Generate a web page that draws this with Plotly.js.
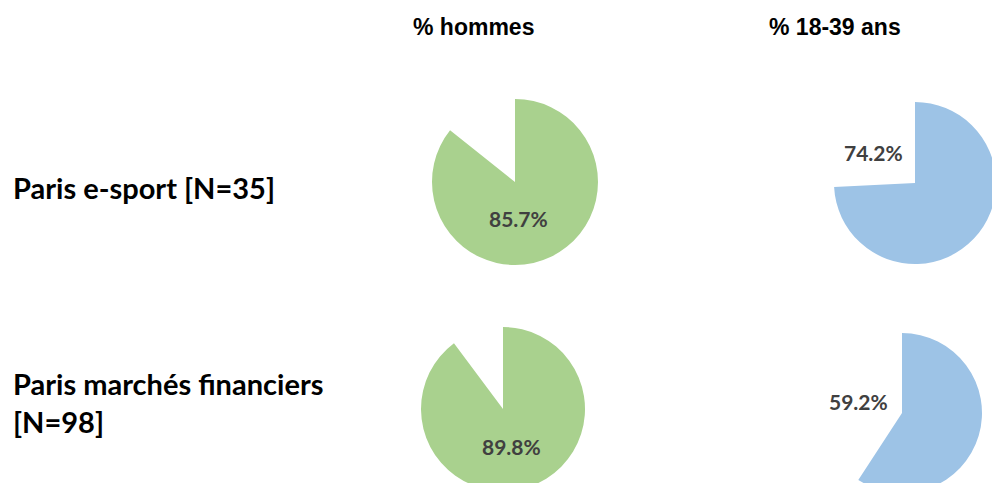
<!DOCTYPE html>
<html><head><meta charset="utf-8">
<script src="https://cdn.plot.ly/plotly-3.0.1.min.js"></script>
<style>html,body{margin:0;padding:0;overflow:hidden;background:#fff;}#chart{width:1000px;height:500px;}</style>
</head><body><div id="chart"></div>
<script>
// Data
const rowLabels = ['Paris e-sport [N=35]', 'Paris marchés financiers<br>[N=98]'];
const colTitles = ['% hommes', '% 18-39 ans'];
const pctHommes = [85.7, 89.8];
const pct1839 = [74.2, 59.2];
const colColors = ['#A9D18E', '#9DC3E6'];

const W = 1000, H = 500;
// layout: pie centres & radii (pixels)
const pieGeom = [
  [{cx: 515, cy: 182, r: 83}, {cx: 915, cy: 183, r: 81}],
  [{cx: 503, cy: 409, r: 82}, {cx: 902, cy: 413, r: 80}]
];
const labelPos = [
  [{x: 518, y: 219}, {x: 873, y: 152}],
  [{x: 511, y: 446}, {x: 858, y: 401}]
];
const series = [pctHommes, pct1839];

const traces = [];
const annotations = [];
for (let row = 0; row < 2; row++) {
  for (let col = 0; col < 2; col++) {
    const v = series[col][row];
    const g = pieGeom[row][col];
    traces.push({
      type: 'pie',
      values: [v, 100 - v],
      marker: {colors: [colColors[col], 'rgba(0,0,0,0)'], line: {width: 0}},
      sort: false,
      direction: 'clockwise',
      rotation: 0,
      textinfo: 'none',
      hoverinfo: 'skip',
      showlegend: false,
      domain: {x: [(g.cx - g.r) / W, (g.cx + g.r) / W], y: [1 - (g.cy + g.r) / H, 1 - (g.cy - g.r) / H]}
    });
    const lp = labelPos[row][col];
    annotations.push({
      text: '<b>' + v.toFixed(1) + '%</b>', showarrow: false, xref: 'paper', yref: 'paper',
      x: lp.x / W, y: 1 - lp.y / H, xanchor: 'center', yanchor: 'middle',
      font: {family: 'Lato', size: 21, color: '#404040'}
    });
  }
}
const titleX = [473, 835];
colTitles.forEach((t, i) => annotations.push({
  text: '<b>' + t + '</b>', showarrow: false, xref: 'paper', yref: 'paper',
  x: titleX[i] / W, y: 1 - 27 / H, xanchor: 'center', yanchor: 'middle',
  font: {family: 'Liberation Sans, Arial', size: 23, color: '#000'}
}));
const rowY = [187, 402];
rowLabels.forEach((t, i) => annotations.push({
  text: '<b>' + t + '</b>', showarrow: false, xref: 'paper', yref: 'paper', align: 'left',
  x: 11 / W, y: 1 - rowY[i] / H, xanchor: 'left', yanchor: 'middle',
  font: {family: 'Lato', size: 29, color: '#000'}
}));

Plotly.newPlot('chart', traces, {
  width: W, height: H, margin: {l: 0, r: 0, t: 0, b: 0},
  paper_bgcolor: '#fff', annotations: annotations
}, {staticPlot: true});
</script></body></html>
